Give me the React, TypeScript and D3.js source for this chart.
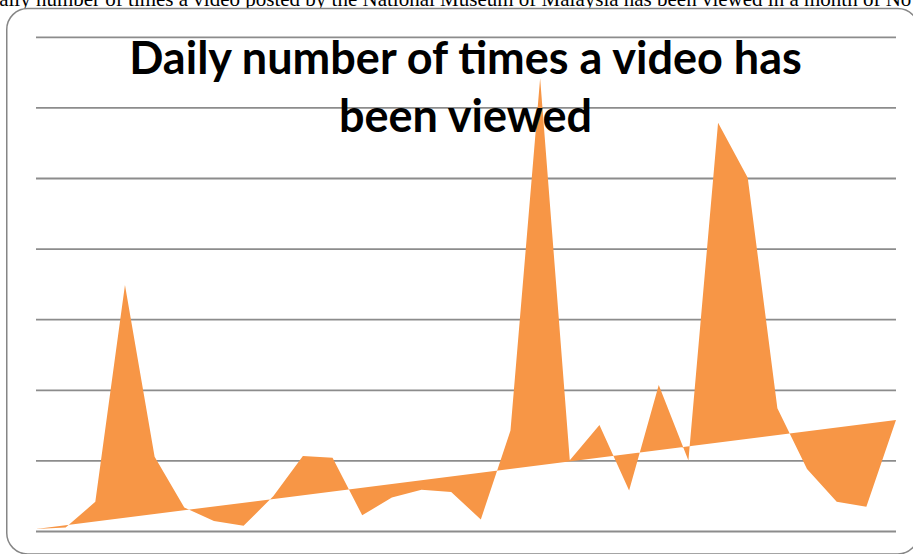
import React from "react";
import * as d3 from "d3";

const days: number[] = d3.range(1, 31);
const views: number[] = [
  0.35, 0.57, 4.2, 34.9, 10.6, 3.4, 1.5, 0.8, 5.0, 10.7,
  10.45, 2.3, 4.8, 5.9, 5.6, 1.7, 14.3, 64.2, 10.1, 15.1,
  5.8, 20.75, 10.06, 57.9, 50.1, 17.45, 8.85, 4.2, 3.5, 15.8,
];
const gridValues: number[] = [0, 10, 20, 30, 40, 50, 60, 70];
const captionText =
  "Daily number of times a video posted by the National Museum of Malaysia has been viewed in a month of November";
const titleLines: string[] = ["Daily number of times a video has", "been viewed"];

const W = 913;
const H = 554;

export default function App() {
  const x = d3.scaleLinear().domain([1, 30]).range([36, 896]);
  const y = d3.scaleLinear().domain([0, 70]).range([531.5, 37.3]);
  const pts: [number, number][] = days.map((d, i) => [d, views[i]]);
  const line = d3
    .line<[number, number]>()
    .x((d) => x(d[0]))
    .y((d) => y(d[1]));
  const path = (line(pts) || "") + "Z";

  return (
    <svg
      width={W}
      height={H}
      style={{ position: "absolute", left: 0, top: 0, background: "#fff" }}
    >
      <text
        x={-16}
        y={5.5}
        fontFamily="'Liberation Serif', 'Times New Roman', serif"
        fontSize={21}
        fill="#000"
      >
        {captionText}
      </text>
      <rect
        x={6.75}
        y={8.5}
        width={912}
        height={545.5}
        rx={21}
        ry={21}
        fill="#fff"
        stroke="#868686"
        strokeWidth={1.5}
      />
      {gridValues.map((v) => (
        <line
          key={v}
          x1={36}
          x2={896}
          y1={y(v)}
          y2={y(v)}
          stroke="#8c8c8c"
          strokeWidth={1.8}
        />
      ))}
      <path d={path} fill="#F79646" stroke="none" />
      {titleLines.map((t, i) => (
        <text
          key={i}
          x={465.5}
          y={74 + i * 58}
          textAnchor="middle"
          fontFamily="Lato, 'Open Sans', sans-serif"
          fontWeight={700}
          fontSize={45}
          fill="#000"
        >
          {t}
        </text>
      ))}
    </svg>
  );
}
